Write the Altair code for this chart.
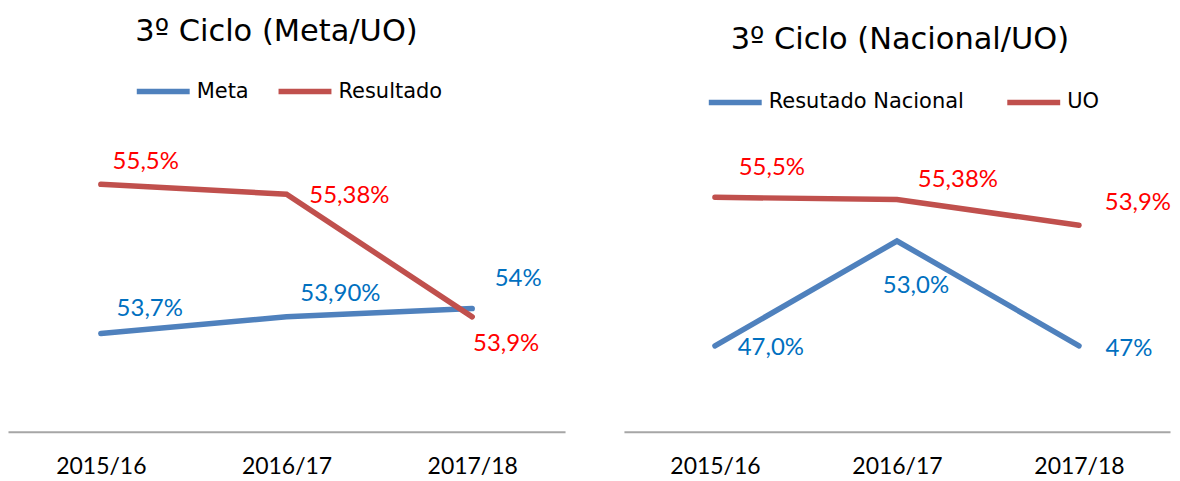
import altair as alt
import pandas as pd

# ---------------- data ----------------
years = ["2015/16", "2016/17", "2017/18"]

meta = [53.7, 53.9, 54.0]
meta_labels = ["53,7%", "53,90%", "54%"]
resultado = [55.5, 55.38, 53.9]
resultado_labels = ["55,5%", "55,38%", "53,9%"]

nacional = [47.0, 53.0, 47.0]
nacional_labels = ["47,0%", "53,0%", "47%"]
uo = [55.5, 55.38, 53.9]
uo_labels = ["55,5%", "55,38%", "53,9%"]

# ---------------- styles ----------------
BLUE_LINE = "#4F81BD"
RED_LINE = "#C0504D"
BLUE_TXT = "#0070C0"
RED_TXT = "#FF0000"
LABEL_FONT = "Lato"
TITLE_FONT = "DejaVu Sans"

# label offsets (dx, dy) per series / point
left_offsets = {"Meta": [(49, -24), (54, -23), (46, -30)],
                "Resultado": [(45, -22), (63, 2), (34, 27)]}
right_offsets = {"Resutado Nacional": [(56, 2), (19, 45), (50, 3)],
                 "UO": [(57, -29), (61, -19), (59, -22)]}


def panel(title, s1, v1, l1, s2, v2, l2, domain, width, offsets,
          legend_x, legend_y, col_pad, title_dx, title_offset):
    rows = []
    for s, vals, labs in ((s1, v1, l1), (s2, v2, l2)):
        for yr, v, lab in zip(years, vals, labs):
            rows.append({"Ano": yr, "Serie": s, "Valor": v, "Rotulo": lab})
    df = pd.DataFrame(rows)

    x = alt.X("Ano:N", sort=years,
              scale=alt.Scale(type="point", padding=0.5),
              axis=alt.Axis(title=None, labelAngle=0, ticks=False,
                            domainColor="#A6A6A6", domainWidth=2,
                            labelFont=LABEL_FONT, labelFontSize=23,
                            labelColor="#000000", labelPadding=24,
                            grid=False))
    y = alt.Y("Valor:Q", scale=alt.Scale(domain=domain, nice=False, zero=False),
              axis=None)

    base = alt.Chart(df)
    lines = base.mark_line(strokeWidth=5.5, strokeCap="round", strokeJoin="miter").encode(
        x=x, y=y,
        color=alt.Color("Serie:N",
                        scale=alt.Scale(domain=[s1, s2], range=[BLUE_LINE, RED_LINE]),
                        legend=alt.Legend(title=None, orient="none",
                                          direction="horizontal",
                                          legendX=legend_x, legendY=legend_y,
                                          symbolType="stroke",
                                          symbolSize=2809,
                                          symbolStrokeWidth=5.5,
                                          labelFont=TITLE_FONT, labelFontSize=21,
                                          labelColor="#000000",
                                          labelOffset=4, labelLimit=0,
                                          columnPadding=col_pad)),
        order=alt.Order("Serie:N"),
    )

    layers = [lines]
    for s, colr in ((s1, BLUE_TXT), (s2, RED_TXT)):
        for j, yr in enumerate(years):
            dx, dy = offsets[s][j]
            layers.append(
                base.transform_filter(
                    (alt.datum.Serie == s) & (alt.datum.Ano == yr)
                ).mark_text(dx=dx, dy=dy, fontSize=24, font=LABEL_FONT,
                            color=colr, align="center", baseline="middle").encode(
                    x=x, y=y, text="Rotulo:N")
            )

    return alt.layer(*layers).properties(
        width=width, height=302,
        title=alt.TitleParams(title, font=TITLE_FONT, fontSize=30.5,
                              fontWeight="normal", color="#000000",
                              anchor="middle", dx=title_dx, offset=title_offset),
    )


left = panel("3º Ciclo (Meta/UO)", "Meta", meta, meta_labels,
             "Resultado", resultado, resultado_labels,
             [52.514, 56.153], 558, left_offsets,
             126, -68.5, 18, -10, 14.5)
right = panel("3º Ciclo (Nacional/UO)", "Resutado Nacional", nacional, nacional_labels,
              "UO", uo, uo_labels,
              [42.086, 59.343], 547, right_offsets,
              82, -57.5, 32, 3, 17.5)

chart = alt.hconcat(left, right, spacing=59).properties(
    padding={"left": 0, "top": 8, "right": 0, "bottom": 0}
).configure_view(stroke=None).resolve_scale(color="independent", y="independent")

chart.save("out.html", embed_options={"renderer": "svg", "actions": False})
